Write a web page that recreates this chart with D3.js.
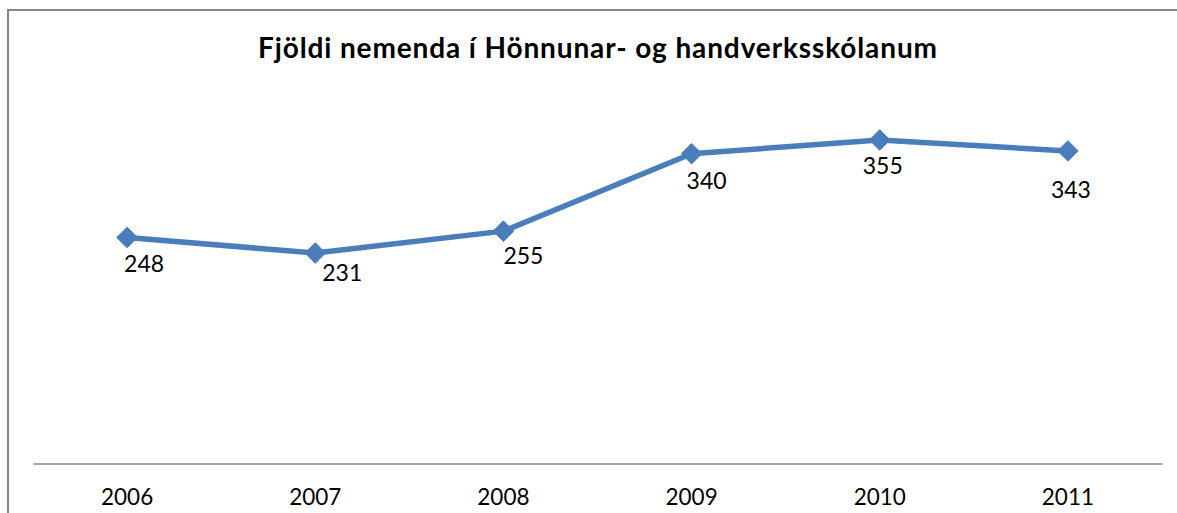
<!DOCTYPE html>
<html>
<head>
<meta charset="utf-8">
<script src="https://cdn.jsdelivr.net/npm/d3@7"></script>
<style>
  body { margin: 0; background: #fff; }
  svg { display: block; font-family: Lato, "Open Sans", sans-serif; }
</style>
</head>
<body>
<div id="chart"></div>
<script>
// data
let years = ["2006", "2007", "2008", "2009", "2010", "2011"];
let students = [248, 231, 255, 340, 355, 343];
let titleText = "Fjöldi nemenda í Hönnunar- og handverksskólanum";

// hand-moved data labels (offset from the marker, px)
let labelShift = [[17, 34], [27, 28], [20, 33], [15, 35], [3, 34], [3, 47]];

var width = 1177, height = 513;
var svg = d3.select("#chart").append("svg")
    .attr("width", width)
    .attr("height", height);

// outer chart border
svg.append("rect")
    .attr("x", 8)
    .attr("y", 10)
    .attr("width", width)
    .attr("height", height)
    .attr("fill", "none")
    .attr("stroke", "#878787")
    .attr("stroke-width", 2);

svg.append("text")
    .attr("x", 597.5)
    .attr("y", 58)
    .attr("text-anchor", "middle")
    .attr("textLength", 679)
    .attr("lengthAdjust", "spacing")
    .style("font-size", "28px")
    .style("font-weight", "bold")
    .text(titleText);

let x = d3.scaleBand()
    .domain(years)
    .range([33, 1162]);

let y = d3.scaleLinear()
    .domain([0, 400])
    .range([463.5, 99]);

// category axis
let xAxis = svg.append("g")
    .attr("transform", "translate(0,463.5)")
    .call(d3.axisBottom(x).tickSize(0).tickPadding(26));
xAxis.select(".domain").attr("stroke", "#878787").attr("stroke-width", 1.5);
xAxis.selectAll("text")
    .style("font-family", "Lato, 'Open Sans', sans-serif")
    .style("font-size", "22.5px")
    .attr("fill", "#000");

let pts = years.map((yr, i) => ({ yr: yr, v: students[i] }));

let line = d3.line()
    .x(d => x(d.yr) + x.bandwidth() / 2)
    .y(d => y(d.v));

svg.append("path")
    .datum(pts)
    .attr("d", line)
    .attr("fill", "none")
    .attr("stroke", "#4a7ebb")
    .attr("stroke-width", 5.5)
    .attr("stroke-linejoin", "round");

let diamond = d3.symbol().type(d3.symbolDiamond2).size(270);
svg.selectAll(".mark")
    .data(pts)
    .enter().append("path")
    .attr("class", "mark")
    .attr("transform", d => "translate(" + (x(d.yr) + x.bandwidth() / 2) + "," + y(d.v) + ")")
    .attr("d", diamond)
    .attr("fill", "#4a7ebb")
    .attr("stroke", "#4a7ebb")
    .attr("stroke-width", 1);

svg.selectAll(".lbl")
    .data(pts)
    .enter().append("text")
    .attr("class", "lbl")
    .attr("x", (d, i) => x(d.yr) + x.bandwidth() / 2 + labelShift[i][0])
    .attr("y", (d, i) => y(d.v) + labelShift[i][1])
    .attr("text-anchor", "middle")
    .style("font-size", "23px")
    .attr("fill", "#000")
    .text(d => d.v);
</script>
</body>
</html>
